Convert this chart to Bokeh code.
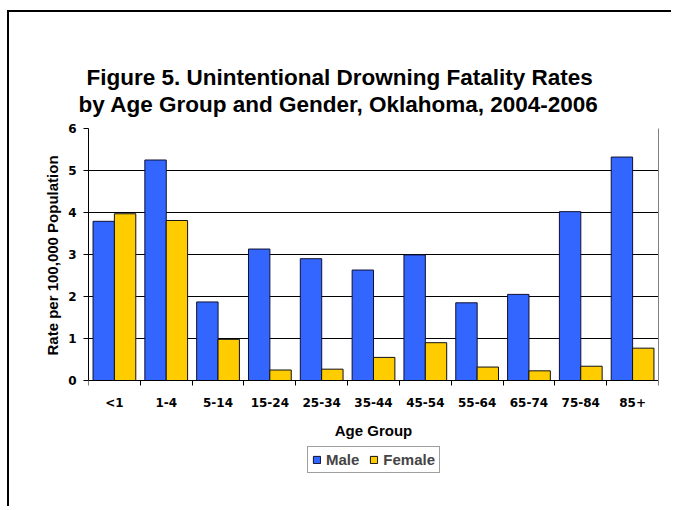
from bokeh.plotting import figure
from bokeh.models import (Range1d, FixedTicker, Legend, LegendItem, Title, Label,
                          LinearAxis, ColumnDataSource)
from bokeh.embed import file_html
from bokeh.resources import INLINE

age_groups = ["<1", "1-4", "5-14", "15-24", "25-34", "35-44", "45-54", "55-64", "65-74", "75-84", "85+"]
male = [3.79, 5.25, 1.87, 3.13, 2.90, 2.63, 2.99, 1.85, 2.05, 4.02, 5.32]
female = [3.97, 3.81, 0.98, 0.25, 0.27, 0.55, 0.90, 0.32, 0.23, 0.34, 0.77]
y_ticks = [0, 1, 2, 3, 4, 5, 6]
title_lines = ["Figure 5. Unintentional Drowning Fatality Rates",
               "by Age Group and Gender, Oklahoma, 2004-2006"]
x_title = "Age Group"
y_title = "Rate per 100,000 Population"

FONT = "Liberation Sans"
TICK_FONT = "DejaVu Sans"
n = len(age_groups)
idx = list(range(n))
bar_w = 0.413
src = ColumnDataSource(dict(
    xm=[i + 0.5 - 0.206 for i in idx],
    xf=[i + 0.5 + 0.206 for i in idx],
    male=male, female=female))

# layout (pixels)
W, H = 664, 496
B_TOP, B_BOTTOM = 116, 30
PX_PER_UNIT = 42.0
frame_h = H - B_TOP - B_BOTTOM
y_max = y_ticks[-1]
y_min = y_max - frame_h / PX_PER_UNIT   # frame extends below 0 to hold labels and legend

p = figure(width=W, height=H, output_backend="svg", toolbar_location=None,
           x_range=Range1d(0, n), y_range=Range1d(y_min, y_max),
           min_border_left=79, min_border_right=15, min_border_top=B_TOP,
           min_border_bottom=B_BOTTOM)
p.styles = {"border-top": "2px solid black", "border-left": "2px solid black",
            "margin-top": "10px", "margin-left": "7px"}
p.background_fill_color = "white"
p.border_fill_color = "white"
p.outline_line_color = None

rm = p.vbar(x="xm", top="male", width=bar_w, source=src, fill_color="#3366FF",
            line_color="#101030", line_width=1)
rf = p.vbar(x="xf", top="female", width=bar_w, source=src, fill_color="#FFCC00",
            line_color="#101010", line_width=1)

# x axis fixed at y = 0
xa = p.xaxis[0]
xa.fixed_location = 0
xa.ticker = FixedTicker(ticks=[i + 0.5 for i in idx], minor_ticks=list(range(n + 1)))
xa.major_label_overrides = {i + 0.5: g for i, g in zip(idx, age_groups)}
xa.major_tick_out = 0
xa.major_tick_in = 0
xa.minor_tick_out = 5
xa.minor_tick_in = 0
xa.minor_tick_line_color = "black"
xa.major_label_standoff = 10
xa.axis_line_color = "black"

ya = p.yaxis[0]
ya.bounds = (y_ticks[0], y_ticks[-1])
ya.ticker = FixedTicker(ticks=y_ticks, minor_ticks=[])
ya.major_tick_out = 5
ya.major_tick_in = 0
ya.major_tick_line_color = "black"
ya.major_label_standoff = 7
ya.axis_line_color = "black"

for ax in (xa, ya):
    ax.major_label_text_font = TICK_FONT
    ax.major_label_text_font_style = "bold"
    ax.major_label_text_font_size = "12px"
    ax.major_label_text_color = "black"

# y-axis title, placed along the 0..6 part of the axis
p.add_layout(Title(text=y_title, align="left", offset=123, standoff=10,
                   text_font=FONT, text_font_style="bold", text_font_size="15px",
                   text_color="black"), "left")

# right-hand gray border of the plot area, 0..6
ra = LinearAxis(bounds=(y_ticks[0], y_ticks[-1]), ticker=FixedTicker(ticks=[], minor_ticks=[]),
                axis_line_color="#808080", major_tick_out=0, major_tick_in=0,
                minor_tick_out=0, minor_tick_in=0, major_label_text_alpha=0)
p.add_layout(ra, "right")

p.xgrid.visible = False
p.ygrid.ticker = FixedTicker(ticks=y_ticks[1:])
p.ygrid.grid_line_color = "black"
p.ygrid.grid_line_width = 1

# x-axis title
p.add_layout(Label(x=n / 2, y=-50 / PX_PER_UNIT, text=x_title, text_font=FONT,
                   text_font_style="bold", text_font_size="15px", text_color="black",
                   text_align="center", text_baseline="middle"))

# titles: the first added sits nearest the frame, p.title outermost
p.title.text = title_lines[0]
p.title.align = "left"
p.title.offset = -2
p.title.text_font = FONT
p.title.text_font_style = "bold"
p.title.text_font_size = "22.5px"
p.title.text_color = "black"
p.title.standoff = 0
p.add_layout(Title(text=" ", text_font_size="1px", standoff=9), "above")
p.add_layout(Title(text=title_lines[1], align="left", offset=-10,
                   text_font=FONT, text_font_style="bold", text_font_size="22.5px",
                   text_color="black", standoff=0), "above")

legend = Legend(items=[LegendItem(label="Male", renderers=[rm]),
                       LegendItem(label="Female", renderers=[rf])],
                orientation="horizontal", location=(219, 5),
                label_text_font=FONT, label_text_font_style="bold", label_text_font_size="15px",
                glyph_width=9, glyph_height=9, label_standoff=5, spacing=10, padding=4,
                margin=0, border_line_color="#404040", border_line_width=1,
                label_height=15, background_fill_color="white")
p.add_layout(legend)

open("out.html", "w").write(file_html(p, INLINE))
